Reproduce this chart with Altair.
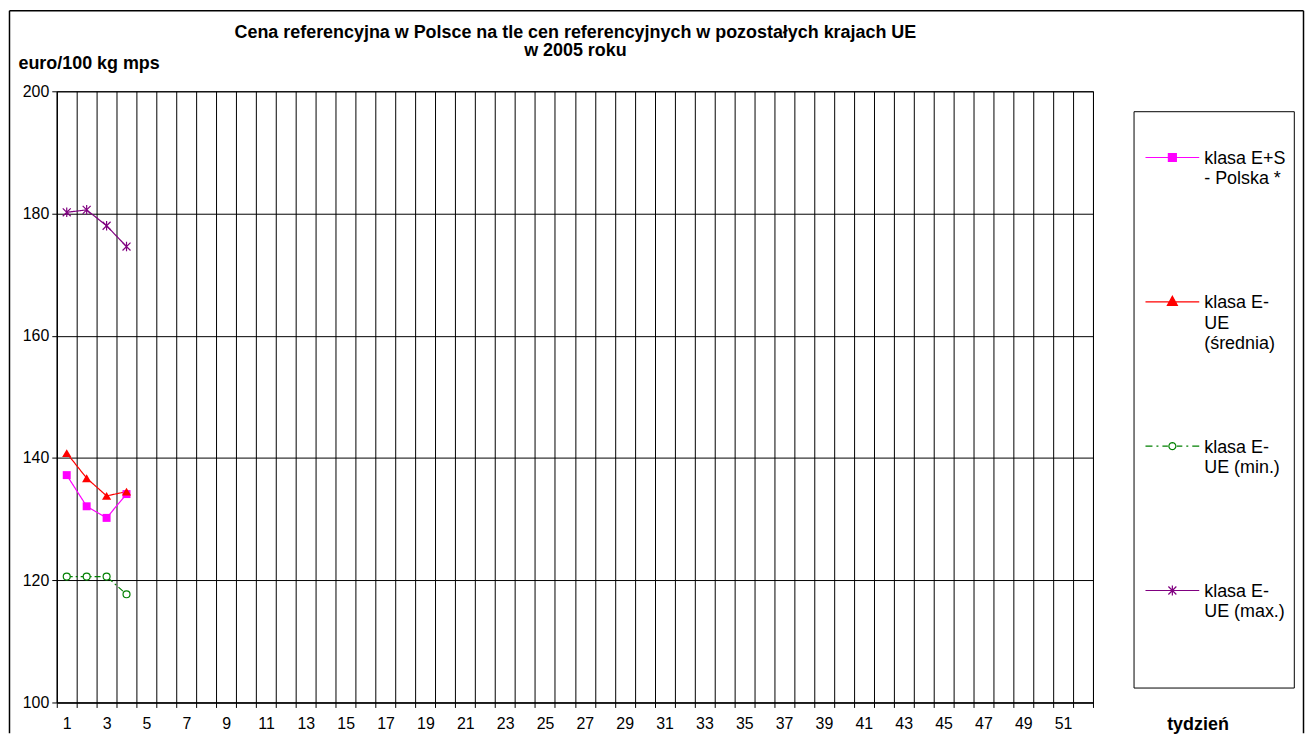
import altair as alt
import pandas as pd
import math

FONT = "Liberation Sans"

TITLE = ["Cena referencyjna w Polsce na tle cen referencyjnych w pozostałych krajach UE",
         "w 2005 roku"]
Y_TITLE = "euro/100 kg mps"
X_TITLE = "tydzień"

SERIES = ["klasa E+S - Polska *", "klasa E-UE (średnia)", "klasa E-UE (min.)", "klasa E-UE (max.)"]
LEGEND_LINES = [["klasa E+S", "- Polska *"],
                ["klasa E-", "UE", "(średnia)"],
                ["klasa E-", "UE (min.)"],
                ["klasa E-", "UE (max.)"]]
WEEKS = [1, 2, 3, 4]
E_S_POLSKA = [137.2, 132.1, 130.2, 134.1]
E_UE_SREDNIA = [140.8, 136.7, 133.8, 134.5]
E_UE_MIN = [120.6, 120.6, 120.6, 117.7]
E_UE_MAX = [180.2, 180.6, 178.0, 174.6]
Y_TICKS = [100, 120, 140, 160, 180, 200]
N_WEEKS = 52
X_LABELS = list(range(1, N_WEEKS + 1, 2))

COLORS = ["#FF00FF", "#FF0000", "#008000", "#800080"]
FILLS = ["#FF00FF", "#FF0000", "#FFFFFF", "#800080"]
DASHES = [[1, 0], [1, 0], [6, 3, 2, 3], [1, 0]]

rows = []
for s, vals in zip(SERIES, [E_S_POLSKA, E_UE_SREDNIA, E_UE_MIN, E_UE_MAX]):
    for w, v in zip(WEEKS, vals):
        rows.append({"week": w, "price": v, "series": s})
df = pd.DataFrame(rows)

# ---------- legend symbol paths (line + marker), symbol box = 60 px ----------
SYM = 60.0
R = SYM / 2
LY = 7.5


def u(v):
    return f"{v / R:.4f}"


def P(x, y):
    return f"{u(x)},{u(y)}"


BOUNDS = f"M{P(0, -40)}M{P(0, 94)}"
FULL_LINE = f"M{P(-27, LY)}L{P(27, LY)}"
SQUARE = f"M{P(-4, LY - 4)}L{P(4, LY - 4)}L{P(4, LY + 4)}L{P(-4, LY + 4)}Z"
TRI = f"M{P(0, LY - 5.5)}L{P(5, LY + 3.5)}L{P(-5, LY + 3.5)}Z"
circ_pts = [(3.5 * math.cos(2 * math.pi * k / 20), LY + 3.5 * math.sin(2 * math.pi * k / 20)) for k in range(20)]
CIRCLE = "M" + "L".join(P(x, y) for x, y in circ_pts) + "Z"
DASHDOT = "".join(f"M{P(a, LY)}L{P(b, LY)}" for a, b in
                  [(-27, -20), (-16, -14), (-10, -4.5), (4.5, 10), (14, 16), (20, 27)])
ASTER = (f"M{P(-4, LY - 4)}L{P(4, LY + 4)}M{P(-4, LY + 4)}L{P(4, LY - 4)}"
         f"M{P(0, LY - 5)}L{P(0, LY + 5)}")
LEGEND_PATHS = [BOUNDS + FULL_LINE + SQUARE,
                BOUNDS + FULL_LINE + TRI,
                BOUNDS + DASHDOT + CIRCLE,
                BOUNDS + FULL_LINE + ASTER]

ASTER_MARK = "M-1,-1L1,1M-1,1L1,-1M0,-1.2L0,1.2"

label_expr = "".join(
    "datum.label === '" + s + "' ? [" + ",".join("'" + l + "'" for l in lines) + "] : "
    for s, lines in zip(SERIES, LEGEND_LINES)) + "datum.label"

# ---------- axes ----------
x_values = sorted([i + 0.5 for i in range(0, N_WEEKS + 1)] + X_LABELS)
x_axis = alt.Axis(
    values=x_values,
    labelExpr="datum.value % 2 == 1 ? format(datum.value, 'd') : ''",
    labelOverlap=False, labelFlush=False, labelBound=False,
    grid=True, gridColor="black", gridWidth=1,
    gridOpacity={"condition": {"test": "datum.value % 1 == 0", "value": 0}, "value": 1},
    tickOpacity={"condition": {"test": "datum.value % 1 == 0", "value": 0}, "value": 1},
    tickSize=5, tickColor="black", domainColor="black",
    labelFontSize=16, labelFont=FONT, labelColor="black", labelPadding=8,
    title=X_TITLE, titleX=1146, titleY=22, titleAlign="center", titleBaseline="middle",
    titleFontSize=18, titleFont=FONT, titleFontWeight="bold", titleColor="black",
)
y_axis = alt.Axis(
    values=Y_TICKS, grid=True, gridColor="black", gridWidth=1,
    tickSize=5, tickColor="black", domainColor="black",
    labelFontSize=16, labelFont=FONT, labelColor="black", labelPadding=3,
    title=Y_TITLE, titleAngle=0, titleAlign="left", titleBaseline="middle",
    titleX=-39, titleY=-28, titleFontSize=18, titleFont=FONT,
    titleFontWeight="bold", titleColor="black",
)

x_enc = alt.X("week:Q", scale=alt.Scale(domain=[0.5, N_WEEKS + 0.5], nice=False, zero=False), axis=x_axis)
y_enc = alt.Y("price:Q", scale=alt.Scale(domain=[100, 200], nice=False, zero=False), axis=y_axis)

base = alt.Chart(df)

point_styles = [
    dict(shape="square", size=64, filled=True),
    dict(shape="triangle-up", size=85, filled=True),
    dict(shape="circle", size=49, filled=False, fill="white"),
    dict(shape=ASTER_MARK, size=64, filled=False),
]
series_layers = []
for s, c, d in zip(SERIES, COLORS, DASHES):
    sub = base.transform_filter(alt.datum.series == s)
    series_layers.append(
        sub.mark_line(color=c, strokeDash=d, strokeWidth=1.2).encode(x=x_enc, y=y_enc)
    )
for s, c, st in zip(SERIES, COLORS, point_styles):
    sub = base.transform_filter(alt.datum.series == s)
    series_layers.append(
        sub.mark_point(color=c, strokeWidth=1.2, opacity=1, **st).encode(x=x_enc, y=y_enc)
    )

leg = alt.Legend(
    orient="none", legendX=1081.75, legendY=20,
    strokeColor="black", fillColor="white", padding=8,
    symbolSize=SYM * SYM, symbolStrokeWidth=1.2, symbolOpacity=1,
    labelExpr=label_expr, labelFontSize=18, labelFont=FONT, labelColor="black",
    labelLimit=300, labelOffset=1, labelBaseline="top",
    rowPadding=5, title=None,
)
legend_layer = (
    base.mark_point(filled=True, opacity=0)
    .encode(
        x=x_enc, y=y_enc,
        fill=alt.Fill("series:N", scale=alt.Scale(domain=SERIES, range=FILLS), legend=leg),
        stroke=alt.Stroke("series:N", scale=alt.Scale(domain=SERIES, range=COLORS), legend=leg),
        shape=alt.Shape("series:N", scale=alt.Scale(domain=SERIES, range=LEGEND_PATHS), legend=leg),
    )
)

frame_df = pd.DataFrame({"k": [0]})
frame_left = alt.Chart(frame_df).mark_rule(color="black", strokeWidth=1.5).encode(
    x=alt.value(-47.5), y=alt.value(-81), y2=alt.value(645))
frame_top = alt.Chart(frame_df).mark_rule(color="black", strokeWidth=1.5).encode(
    x=alt.value(-47.5), x2=alt.value(1252.5), y=alt.value(-81))
frame_right = alt.Chart(frame_df).mark_rule(color="black", strokeWidth=1.5).encode(
    x=alt.value(1252.5), y=alt.value(-81), y2=alt.value(645))

title_layer = alt.Chart(frame_df).mark_text(
    font=FONT, fontSize=18, fontWeight="bold", color="black", align="center",
    baseline="middle", lineHeight=19,
).encode(x=alt.value(521), y=alt.value(-59), text=alt.value(TITLE))

chart = alt.layer(frame_left, frame_top, frame_right, title_layer, *series_layers,
                  legend_layer).properties(
    width=1041, height=614, padding=0,
).configure(
    background="white", font=FONT,
    style={"guide-label": {"lineHeight": 20.5}},
).configure_view(stroke="black", strokeWidth=1)

chart.save("out.html", embed_options={"renderer": "svg", "actions": False})
